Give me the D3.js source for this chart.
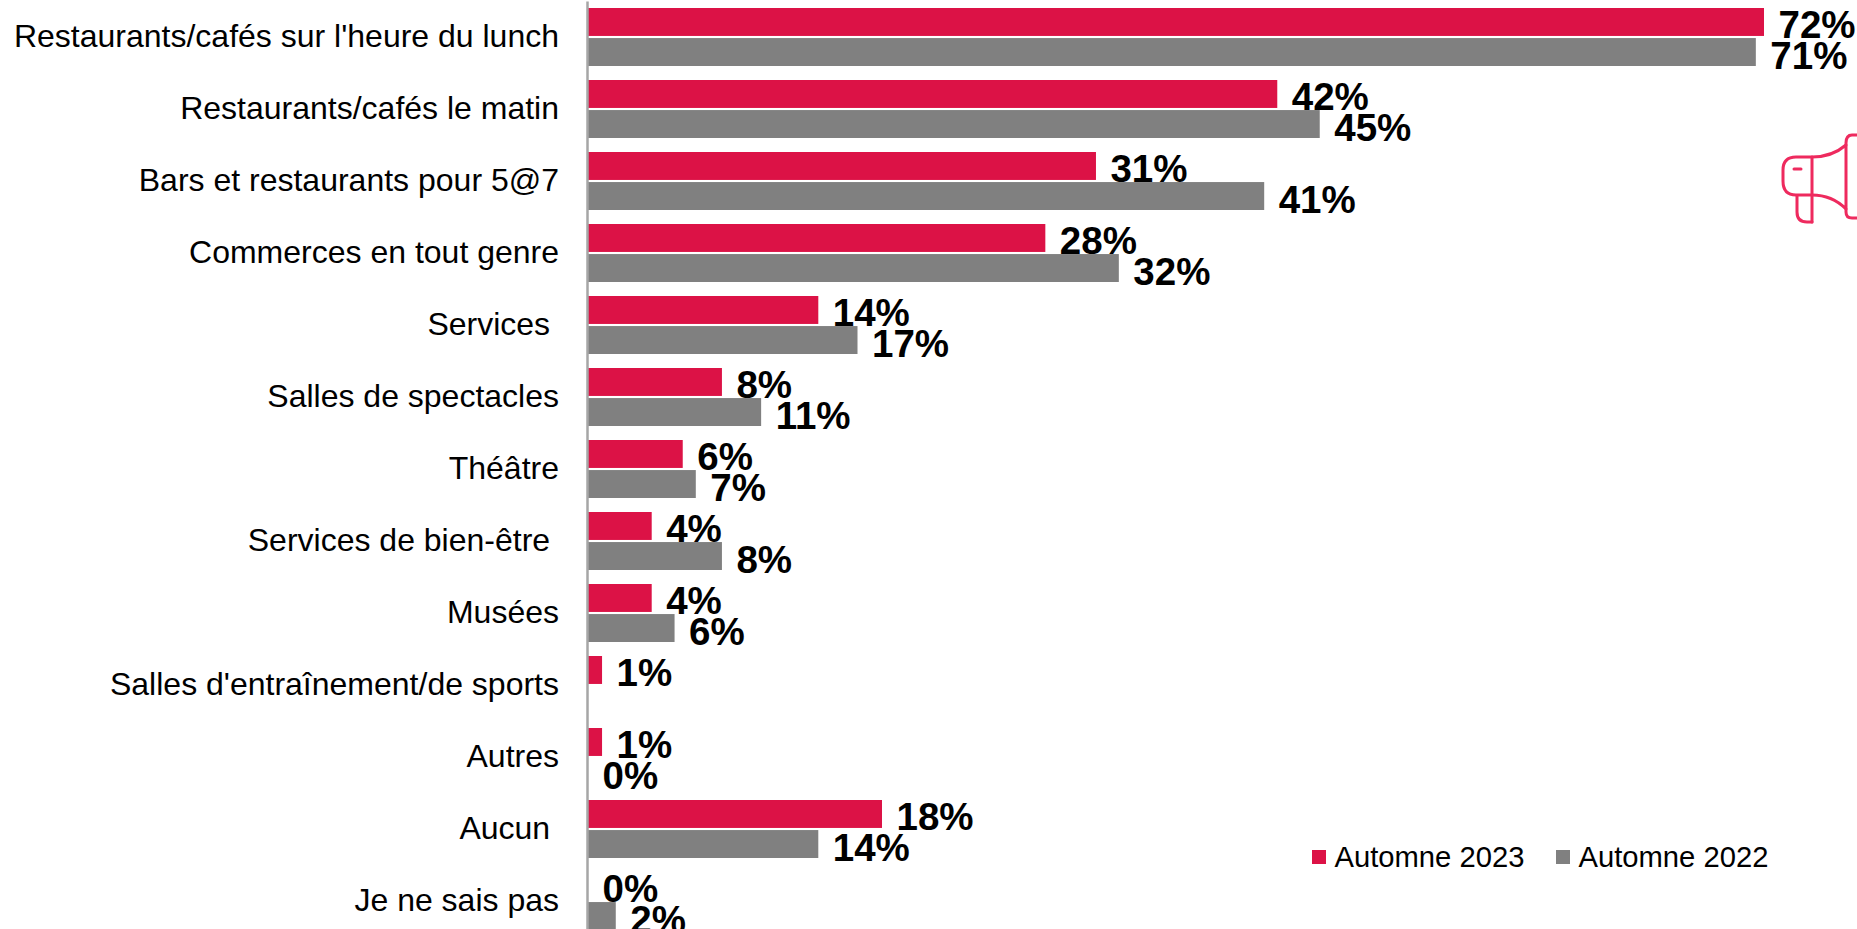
<!DOCTYPE html>
<html><head><meta charset="utf-8">
<script src="https://cdnjs.cloudflare.com/ajax/libs/d3/7.8.5/d3.min.js"></script>
<style>html,body{margin:0;padding:0;background:#fff;overflow:hidden}
svg{display:block;font-family:"Liberation Sans",Arial,sans-serif}
text{white-space:pre}</style></head><body><div id="c"></div>
<script>
const categories=["Restaurants/cafés sur l'heure du lunch","Restaurants/cafés le matin","Bars et restaurants pour 5@7","Commerces en tout genre","Services ","Salles de spectacles","Théâtre","Services de bien-être ","Musées","Salles d'entraînement/de sports","Autres","Aucun ","Je ne sais pas"];
const values2023=[72,42.2,31.1,28,14.1,8.2,5.8,3.9,3.9,0.86,0.86,18,0];
const values2022=[71.5,44.8,41.4,32.5,16.5,10.6,6.6,8.2,5.3,null,0,14.1,1.7];
const labels2023=["72%","42%","31%","28%","14%","8%","6%","4%","4%","1%","1%","18%","0%"];
const labels2022=["71%","45%","41%","32%","17%","11%","7%","8%","6%","","0%","14%","2%"];
const seriesNames=["Automne 2023","Automne 2022"];
const seriesColors=["#DC1246","#808080"];

const W=1857,H=929,x0=588;
const svg=d3.select("#c").append("svg").attr("width",W).attr("height",H);
const x=d3.scaleLinear().domain([0,72]).range([x0,1764]);
const y=d3.scaleBand().domain(categories).range([1,937]).paddingInner(0).paddingOuter(0);
const inner=d3.scaleBand().domain([0,1]).range([7,65]).paddingInner(0.07);

const series=[values2023,values2022];
const lbls=[labels2023,labels2022];
series.forEach((vals,s)=>{
  const g=svg.append("g");
  const rows=categories.map((c,i)=>({c,v:vals[i],l:lbls[s][i]})).filter(d=>d.v!==null);
  g.selectAll("rect").data(rows).join("rect")
    .attr("x",x0).attr("y",d=>y(d.c)+inner(s))
    .attr("width",d=>x(d.v)-x0).attr("height",inner.bandwidth())
    .attr("fill",seriesColors[s]);
});
series.forEach((vals,s)=>{
  const g=svg.append("g");
  const rows=categories.map((c,i)=>({c,v:vals[i],l:lbls[s][i]})).filter(d=>d.v!==null);
  g.selectAll("text").data(rows).join("text")
    .attr("x",d=>x(d.v)+14.5).attr("y",d=>y(d.c)+inner(s)+inner.bandwidth()+2.5)
    .attr("font-size",38.5).attr("font-weight","bold").attr("fill","#000")
    .text(d=>d.l);
});
const ax=svg.append("g").attr("transform",`translate(${x0-1},0)`)
  .call(d3.axisLeft(y).tickSize(0).tickPadding(28));
ax.select(".domain").attr("stroke","#A6A6A6").attr("stroke-width",2.5);
ax.selectAll("text").attr("font-size",32).attr("fill","#000").attr("font-family","\"Liberation Sans\",Arial,sans-serif");

const lg=svg.append("g");
const legendX=d3.scaleOrdinal().domain(seriesNames).range([1312,1556]);
seriesNames.forEach((n,i)=>{
  lg.append("rect").attr("x",legendX(n)).attr("y",850).attr("width",14).attr("height",14).attr("fill",seriesColors[i]);
  lg.append("text").attr("x",legendX(n)+22.5).attr("y",867).attr("font-size",29.2).attr("fill","#000").text(n);
});

const ic=svg.append("g").attr("fill","none").attr("stroke","#EE2A5E").attr("stroke-width",3).attr("stroke-linejoin","round").attr("stroke-linecap","round").attr("transform","translate(1680,0)");
ic.append("path").attr("d","M132 157 H116 Q103 157 103 170 V181 Q103 195 116 195 H132 Q152 195 166 209 V145 Q152 157 132 157 Z");
ic.append("path").attr("d","M132 157 V222");
ic.append("path").attr("d","M117 196 V212 Q117 222 127 222 H132");
ic.append("path").attr("d","M114 169 H121");
ic.append("path").attr("d","M166 145 V143 Q166 135 172 135 H177 M166 209 V212 Q166 218 172 218 H177");
</script></body></html>
